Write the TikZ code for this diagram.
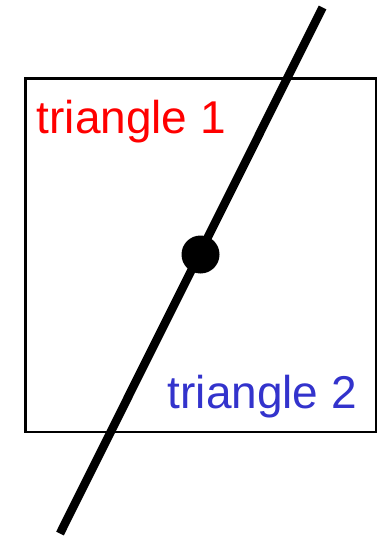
\documentclass[tikz,border=0pt]{standalone}
\usepackage{fontspec}
\setmainfont{Liberation Sans}
\definecolor{tblue}{RGB}{51,51,204}
\begin{document}
\begin{tikzpicture}[x=1pt,y=-1pt,
  label1/.style={anchor=base west,inner sep=0pt,font=\fontsize{46}{50}\selectfont}]
\useasboundingbox (0,0) rectangle (376,537);
\node[draw=black,line width=2.5pt,minimum width=351pt,minimum height=353pt,inner sep=0pt,anchor=north west] (box) at (24,77.5) {};
\coordinate (top) at (322.5,7.5);
\coordinate (bot) at (60,533.5);
\draw[line width=8.5pt] (bot) -- (top);
\node[circle,fill=black,minimum size=38pt,inner sep=0pt] (dot) at (200.5,254.5) {};
\node[label1,text=red] (t1) at (36.5,134) {triangle 1};
\node[label1,text=tblue] (t2) at (167.5,408) {triangle 2};
\end{tikzpicture}
\end{document}
